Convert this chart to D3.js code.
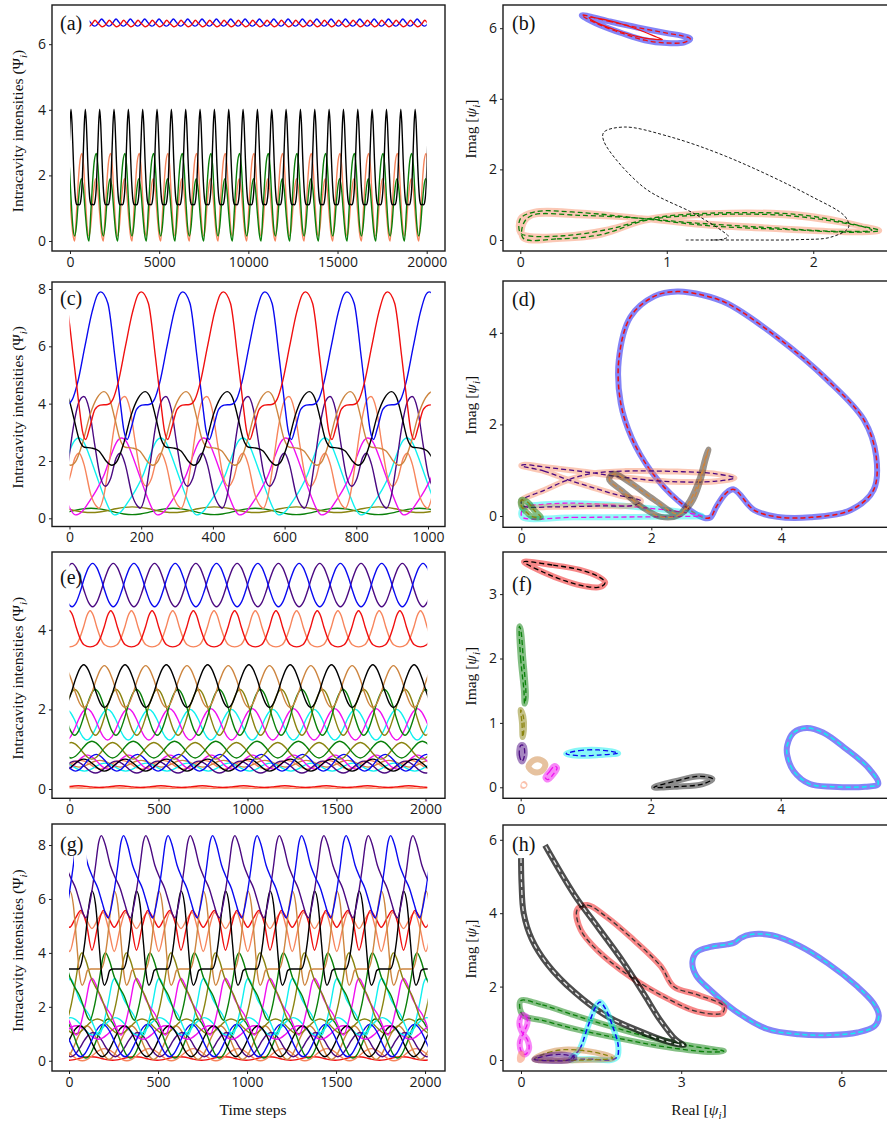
<!DOCTYPE html>
<html>
<head>
<meta charset="utf-8">
<script src="https://cdn.jsdelivr.net/npm/d3@7"></script>
<style>
  body { margin: 0; background: #fff; }
  .serif { font-family: "Liberation Serif", "Times New Roman", serif; }
</style>
</head>
<body>
<svg id="fig" width="887" height="1123"></svg>
<script>
// ---------- data ----------

// normalised one-cycle shapes (phase 0..1 -> 0..1)
const shapes = {
  round:  [[0,1],[0.1,0.9],[0.2,0.66],[0.3,0.35],[0.4,0.1],[0.5,0],[0.6,0.1],[0.7,0.35],[0.8,0.66],[0.9,0.9],[1,1]],
  peaked: [[0,1],[0.08,0.86],[0.16,0.55],[0.25,0.25],[0.35,0.06],[0.5,0],[0.65,0.06],[0.75,0.25],[0.84,0.55],[0.92,0.86],[1,1]],
  skew:   [[0,1],[0.08,0.9],[0.2,0.64],[0.3,0.5],[0.42,0.36],[0.52,0.18],[0.6,0.04],[0.65,0],[0.74,0.18],[0.86,0.6],[0.94,0.92],[1,1]]
};

// (a) long run, 0..20000 steps
const aTime = [-1009, 21026];
const aValue = [-0.305, 7.195];
const aTicksX = [0, 5000, 10000, 15000, 20000];
const aTicksY = [0, 2, 4, 6];
const aCycleLow = [[0,0],[100,0.85],[200,1.8],[300,2.45],[411,2.67],[500,2.3],[600,1.3],[700,0.45],[804,0.15],[900,0.45],[1000,1.15],[1100,1.7],[1190,1.9],[1300,1.55],[1400,0.85],[1500,0.25],[1608,0]];
const aSeries = [
  {key: "coral", from: 0, to: 20000, period: 1608, ref: 262, cycle: aCycleLow},
  {key: "green", from: 0, to: 20000, period: 1608, ref: 1066, cycle: aCycleLow},
  {key: "black", from: 0, to: 20000, period: 804, ref: 56,
   cycle: [[0,4.02],[60,3.55],[130,2.5],[200,1.65],[270,1.2],[340,1.1],[402,1.12],[470,1.1],[540,1.2],[610,1.6],[680,2.55],[745,3.55],[804,4.02]]},
  {key: "blue", from: 1100, to: 20000, period: 804, ref: 1776,
   cycle: [[0,6.77],[150,6.68],[300,6.58],[402,6.55],[500,6.57],[650,6.67],[804,6.77]]},
  {key: "red", from: 1100, to: 20000, period: 804, ref: 1402,
   cycle: [[0,6.73],[150,6.65],[300,6.57],[402,6.53],[500,6.55],[650,6.63],[804,6.73]]}
];

// (c) 0..1000 steps, period 229
const cTime = [-48.8, 1047.4];
const cValue = [-0.286, 8.244];
const cTicksX = [0, 200, 400, 600, 800, 1000];
const cTicksY = [0, 2, 4, 6, 8];
const cPeriod = 229;
const cCycleBig = [[0,7.9],[20,7.5],[40,5.6],[55,4.0],[65,3.05],[74,2.75],[85,3.15],[100,3.8],[115,3.95],[135,3.97],[150,4.15],[165,4.75],[185,6.0],[205,7.2],[220,7.8],[229,7.9]];
const cCycleMid = [[0,4.42],[15,4.2],[30,3.5],[45,2.75],[60,2.48],[80,2.45],[100,2.35],[120,2.0],[136,1.85],[150,1.98],[170,2.65],[190,3.6],[210,4.2],[229,4.42]];
const cCycleTwin = [[0,4.25],[15,3.8],[30,2.6],[45,1.5],[60,1.12],[75,1.4],[90,2.1],[102,2.27],[115,1.9],[135,0.8],[150,0.42],[157,0.35],[170,0.75],[185,1.9],[200,3.2],[215,4.05],[229,4.25]];
const cCycleWave = [[0,2.8],[15,2.65],[30,2.2],[50,1.5],[70,0.8],[85,0.35],[100,0.12],[120,0.25],[140,0.6],[160,1.0],[180,1.5],[200,2.2],[215,2.65],[229,2.8]];
const cSeries = [
  {key: "green", ref: 60, lo: 0.13, hi: 0.35, shape: "round"},
  {key: "olive", ref: 175, lo: 0.2, hi: 0.4, shape: "round"},
  {key: "cyan", ref: 25, cycle: cCycleWave},
  {key: "magenta", ref: 145, cycle: cCycleWave},
  {key: "coral", ref: 154, cycle: cCycleTwin},
  {key: "indigo", ref: 40, cycle: cCycleTwin},
  {key: "peru", ref: 96, cycle: cCycleMid},
  {key: "black", ref: 211, cycle: cCycleMid},
  {key: "blue", ref: 87, cycle: cCycleBig},
  {key: "red", ref: 200, cycle: cCycleBig}
];

// (e) 0..2000 steps, period 232
const eTime = [-98.3, 2109.6];
const eValue = [-0.234, 5.955];
const eTicksX = [0, 500, 1000, 1500, 2000];
const eTicksY = [0, 2, 4];
const ePeriod = 232;
const eSeries = [
  {key: "coral", ref: 0, lo: 0.02, hi: 0.03, shape: "round"},
  {key: "red", ref: 50, lo: 0.04, hi: 0.08, shape: "round"},
  {key: "peru", ref: 170, lo: 0.55, hi: 0.72, shape: "round"},
  {key: "coral", ref: 60, lo: 0.5, hi: 0.72, shape: "round"},
  {key: "cyan", ref: 200, lo: 0.45, hi: 0.65, shape: "round"},
  {key: "magenta", ref: 100, lo: 0.5, hi: 0.85, shape: "round"},
  {key: "indigo", ref: 30, lo: 0.4, hi: 0.7, shape: "round"},
  {key: "black", ref: 80, lo: 0.45, hi: 0.75, shape: "round"},
  {key: "blue", ref: 150, lo: 0.45, hi: 0.87, shape: "round"},
  {key: "olive", ref: 10, lo: 0.75, hi: 1.17, shape: "round"},
  {key: "green", ref: 126, lo: 0.78, hi: 1.2, shape: "round"},
  {key: "cyan", ref: 214, lo: 1.23, hi: 2.0, shape: "round"},
  {key: "magenta", ref: 98, lo: 1.23, hi: 2.02, shape: "round"},
  {key: "olive", ref: 30, lo: 1.35, hi: 2.5, shape: "round"},
  {key: "green", ref: 145, lo: 1.35, hi: 2.5, shape: "round"},
  {key: "peru", ref: 196, lo: 2.05, hi: 3.1, shape: "round"},
  {key: "black", ref: 80, lo: 2.05, hi: 3.12, shape: "round"},
  {key: "coral", ref: 116, lo: 3.57, hi: 4.48, shape: "peaked"},
  {key: "red", ref: 0, lo: 3.57, hi: 4.48, shape: "peaked"},
  {key: "indigo", ref: 14, lo: 4.58, hi: 5.67, shape: "round"},
  {key: "blue", ref: 130, lo: 4.58, hi: 5.67, shape: "round"}
];

// (g) 0..2000 steps, period 250
const gTime = [-95.5, 2112];
const gValue = [-0.38, 8.78];
const gTicksX = [0, 500, 1000, 1500, 2000];
const gTicksY = [0, 2, 4, 6, 8];
const gPeriod = 250;
const gCycleStep = [[0,6.3],[20,5.8],[40,4.3],[55,3.2],[70,2.8],[85,3.0],[100,3.35],[120,3.4],[175,3.4],[190,3.6],[210,4.4],[230,5.6],[250,6.3]];
const gSeries = [
  {key: "red", ref: 120, lo: 0.02, hi: 0.15, shape: "round"},
  {key: "coral", ref: 200, lo: 0.0, hi: 0.45, shape: "round"},
  {key: "peru", ref: 100, lo: 0.05, hi: 1.3, shape: "round"},
  {key: "indigo", ref: 135, lo: 0.15, hi: 1.05, shape: "round"},
  {key: "green", ref: 220, lo: 0.1, hi: 1.55, shape: "round"},
  {key: "magenta", ref: 40, lo: 0.8, hi: 1.3, shape: "round"},
  {key: "olive", ref: 160, lo: 1.0, hi: 1.55, shape: "round"},
  {key: "cyan", ref: 10, lo: 0.95, hi: 1.6, shape: "round"},
  {key: "black", ref: 62, lo: 0.15, hi: 1.3, shape: "round"},
  {key: "blue", ref: 190, lo: 0.15, hi: 1.35, shape: "round"},
  {key: "cyan", ref: 7, lo: 0.95, hi: 3.05, shape: "skew"},
  {key: "magenta", ref: 130, lo: 0.95, hi: 3.05, shape: "skew"},
  {key: "olive", ref: 73, lo: 1.5, hi: 4.0, shape: "skew"},
  {key: "green", ref: 205, lo: 1.5, hi: 4.0, shape: "skew"},
  {key: "coral", ref: 67, cycle: [[0,5.5],[30,5.25],[62,4.9],[95,5.25],[125,5.5],[155,4.9],[187,4.05],[220,4.9],[250,5.5]]},
  {key: "red", ref: 192, cycle: [[0,5.57],[30,5.3],[62,4.95],[95,5.3],[125,5.57],[155,5.1],[187,4.1],[220,5.0],[250,5.57]]},
  {key: "peru", ref: 254, cycle: gCycleStep},
  {key: "black", ref: 129, cycle: gCycleStep},
  {key: "indigo", ref: 182, lo: 5.3, hi: 8.35, shape: "skew"},
  {key: "blue", from: 100, ref: 307, lo: 5.3, hi: 8.35, shape: "skew"},
  {key: "blue", from: 0, to: 28, ref: 307, lo: 5.3, hi: 8.35, shape: "skew"}
];

// (b) phase portrait
const bReal = [-0.118, 2.517];
const bImag = [-0.312, 6.657];
const bTicksX = [0, 1, 2];
const bTicksY = [0, 2, 4, 6];
const bTop = [[0.42,6.37],[0.6,6.2],[0.8,6.02],[1.0,5.86],[1.1,5.79],[1.16,5.7],[1.12,5.6],[1.0,5.58],[0.85,5.66],[0.7,5.85],[0.55,6.08],[0.45,6.28]];
const bTopInner = [[0.47,6.3],[0.62,6.2],[0.78,6.0],[0.93,5.75],[0.97,5.68],[0.85,5.72],[0.65,5.95],[0.5,6.2]];
const bRibbon = [[0.02,0.05],[0.25,0.03],[0.55,0.15],[0.85,0.55],[1.2,0.7],[1.8,0.7],[2.25,0.45],[2.45,0.27],[2.3,0.22],[1.8,0.3],[1.3,0.4],[0.85,0.6],[0.4,0.78],[0.1,0.8],[0.0,0.6],[0.0,0.2],
                 [0.05,0.12],[0.3,0.12],[0.6,0.3],[0.9,0.62],[1.3,0.76],[1.9,0.72],[2.3,0.42],[2.4,0.28],[2.2,0.24],[1.7,0.35],[1.2,0.48],[0.8,0.62],[0.4,0.7],[0.08,0.7],[0.02,0.45]];
const bOrbit = [[1.13,0.0],[1.5,0.0],[1.9,0.01],[2.12,0.08],[2.24,0.35],[2.22,0.65],[1.98,1.25],[1.41,2.36],[1.0,2.95],[0.71,3.2],[0.57,3.05],[0.57,2.8],[0.84,1.5],[1.19,0.74],[1.38,0.25],[1.42,0.1],[1.38,0.02],[1.3,0.0]];

// (d)
const dReal = [-0.282, 5.657];
const dImag = [-0.247, 5.131];
const dTicksX = [0, 2, 4];
const dTicksY = [0, 2, 4];
const dBig = [[2.81,-0.04],[2.4,0.35],[1.99,0.99],[1.7,1.7],[1.53,2.46],[1.5,3.41],[1.68,4.35],[2.05,4.8],[2.4,4.9],[2.8,4.82],[3.17,4.64],[3.94,3.9],[4.71,2.97],[5.27,2.1],[5.46,1.3],[5.42,0.57],[5.07,0.13],[4.45,-0.03],[3.94,-0.02],[3.58,0.13],[3.27,0.58],[3.15,0.5],[3.0,0.2],[2.91,-0.03]];
const dCyan = [[0.02,-0.03],[0.8,-0.03],[1.8,-0.02],[2.5,-0.01],[2.78,0.0],[2.5,0.08],[1.9,0.18],[1.3,0.25],[0.7,0.28],[0.3,0.25],[0.06,0.2],[0.0,0.08]];
const dSalmon = [[0.0,1.1],[0.35,0.98],[0.72,0.79],[1.1,0.62],[1.5,0.45],[1.84,0.33],[1.75,0.24],[1.2,0.22],[0.5,0.2],[0.03,0.22],[0.0,0.33],[0.35,0.56],[0.72,0.79],[1.1,0.93],[1.6,0.98],[2.4,0.97],[3.0,0.92],[3.28,0.83],[3.0,0.76],[2.3,0.75],[1.6,0.84],[1.0,0.96],[0.4,1.06],[0.05,1.12]];
const dGrey = [[2.15,-0.02],[1.85,0.2],[1.55,0.55],[1.35,0.8],[1.42,0.92],[1.65,0.75],[2.05,0.35],[2.42,0.04],[2.62,0.3],[2.75,0.75],[2.83,1.2],[2.88,1.45],[2.84,1.3],[2.74,0.8],[2.6,0.35],[2.42,0.02]];
const dGreen = [[0.0,0.35],[0.1,0.3],[0.2,0.12],[0.3,-0.02],[0.18,-0.02],[0.08,0.08],[0.0,0.22]];

// (f)
const fReal = [-0.272, 5.666];
const fImag = [-0.171, 3.654];
const fTicksX = [0, 2, 4];
const fTicksY = [0, 1, 2, 3];
const fRed = [[0.05,3.5],[0.5,3.45],[0.9,3.38],[1.2,3.27],[1.3,3.18],[1.22,3.11],[1.0,3.12],[0.7,3.2],[0.35,3.34]];
const fGreen = [[-0.02,2.5],[0.0,2.0],[0.05,1.5],[0.06,1.3],[0.08,1.4],[0.04,2.0],[0.0,2.45]];
const fOlive = [[0.0,1.2],[0.02,1.0],[0.03,0.78],[0.05,0.9],[0.04,1.1]];
const fIndigo = [[0.0,0.65],[-0.02,0.5],[0.02,0.4],[0.06,0.5],[0.04,0.65]];
const fPeru = [[0.12,0.32],[0.2,0.42],[0.32,0.42],[0.38,0.35],[0.32,0.25],[0.2,0.24]];
const fMagenta = [[0.38,0.15],[0.45,0.25],[0.52,0.33],[0.56,0.3],[0.5,0.2],[0.42,0.12]];
const fCoral = [[0.04,0.02],[0.06,0.04],[0.05,0.05]];
const fCyan = [[0.7,0.52],[0.9,0.57],[1.2,0.58],[1.5,0.53],[1.2,0.5],[0.9,0.49]];
const fBlack = [[2.05,0.0],[2.4,0.1],[2.75,0.17],[2.95,0.13],[2.8,0.05],[2.4,0.01]];
const fBlue = [[4.1,0.65],[4.2,0.85],[4.4,0.92],[4.65,0.85],[5.0,0.6],[5.35,0.3],[5.5,0.05],[5.3,0.01],[4.8,0.01],[4.45,0.05],[4.2,0.25],[4.1,0.5]];

// (h)
const hReal = [-0.337, 6.891];
const hImag = [-0.30, 6.403];
const hTicksX = [0, 3, 6];
const hTicksY = [0, 2, 4, 6];
const hBlue = [[3.21,2.68],[3.3,2.95],[3.55,3.08],[3.86,3.15],[4.0,3.2],[4.12,3.33],[4.3,3.42],[4.7,3.4],[5.2,3.12],[5.74,2.64],[6.3,2.0],[6.6,1.55],[6.7,1.22],[6.62,0.92],[6.3,0.75],[5.8,0.68],[5.2,0.7],[4.6,0.85],[4.0,1.35],[3.55,1.9],[3.28,2.3]];
const hRed = [[1.05,4.09],[1.24,4.22],[1.6,3.9],[2.05,3.35],[2.62,2.55],[2.86,2.0],[3.3,1.78],[3.8,1.46],[3.77,1.28],[3.3,1.32],[2.8,1.63],[2.05,2.27],[1.43,2.99],[1.12,3.54]];
const hBlack = [[0.0,5.5],[0.01,4.8],[0.05,4.0],[0.2,3.3],[0.5,2.6],[1.0,1.85],[1.6,1.2],[2.2,0.8],[2.7,0.52],[3.05,0.4],[2.9,0.55],[2.6,1.1],[2.3,1.8],[1.9,2.7],[1.45,3.6],[1.0,4.5],[0.45,5.85]];
const hGreen = [[0.0,1.62],[0.4,1.5],[1.0,1.22],[1.6,0.95],[2.4,0.62],[3.2,0.38],[3.8,0.24],[3.5,0.22],[2.6,0.38],[1.8,0.6],[1.0,0.85],[0.4,1.08],[0.05,1.2],[-0.02,1.4]];
const hCyan = [[0.93,0.0],[1.1,0.3],[1.25,0.9],[1.4,1.45],[1.48,1.58],[1.58,1.4],[1.72,0.9],[1.82,0.4],[1.8,0.08],[1.68,0.0],[1.35,0.02],[1.1,0.02]];
const hMagenta = [[0.02,1.22],[0.1,1.18],[0.12,1.0],[0.05,0.75],[-0.02,0.5],[0.0,0.25],[0.08,0.15],[0.15,0.3],[0.12,0.55],[0.02,0.75],[-0.03,1.0]];
const hPeru = [[0.25,0.02],[0.5,0.2],[0.8,0.28],[1.2,0.25],[1.55,0.15],[1.72,0.05],[1.2,0.0],[0.6,-0.01]];
const hIndigo = [[0.25,0.02],[0.5,0.12],[0.75,0.15],[1.0,0.08],[0.9,0.0],[0.5,-0.02]];
const hCoral = [[-0.02,0.0],[0.0,0.18],[0.02,0.05]];

// ---------- styles & layout ----------
const colors = {
  blue: "#0a0af0", red: "#f01010", black: "#000000", green: "#0a800a", coral: "#f7855c",
  peru: "#cd853f", indigo: "#4b0a82", cyan: "#10f0f0", magenta: "#f010f0", olive: "#8a8410",
  grey: "#333333", taupe: "#4a3a2a"
};
const frames = {
  a: {x0: 52, x1: 445, y0: 5, y1: 251},
  b: {x0: 503, x1: 889, y0: 5, y1: 251},
  c: {x0: 52, x1: 445, y0: 282, y1: 526.5},
  d: {x0: 503, x1: 889, y0: 281, y1: 527.3},
  e: {x0: 52, x1: 445, y0: 552, y1: 798.3},
  f: {x0: 503, x1: 889, y0: 552, y1: 798.3},
  g: {x0: 52, x1: 445, y0: 824, y1: 1071},
  h: {x0: 503, x1: 889, y0: 825, y1: 1071}
};

const svg = d3.select("#fig");
const defs = svg.append("defs");

function cyclePoints(s, period) {
  if (s.cycle) return s.cycle;
  return shapes[s.shape].map(([p, v]) => [p * period, s.lo + v * (s.hi - s.lo)]);
}

// repeat the read-off cycle over the run
function tile(s, period, from, to) {
  const P = s.period || period;
  const cyc = cyclePoints(s, P);
  const pts = [];
  const k0 = Math.floor((from - s.ref) / P) - 1;
  const k1 = Math.ceil((to - s.ref) / P) + 1;
  for (let k = k0; k <= k1; k++) {
    cyc.forEach(([ph, v], i) => {
      if (i === cyc.length - 1 && k < k1) return;
      pts.push([s.ref + k * P + ph, v]);
    });
  }
  return pts.filter(p => p[0] >= from - P / 3 && p[0] <= to + P / 3);
}

function axes(id, fr, x, y, xt, yt) {
  const g = svg.append("g");
  g.append("g")
    .attr("transform", `translate(0,${fr.y1})`)
    .call(d3.axisBottom(x).tickValues(xt).tickSize(3).tickPadding(3).tickFormat(d3.format("d")))
    .attr("font-family", "'Open Sans', sans-serif")
    .attr("font-size", 14)
    .call(a => a.select(".domain").remove());
  g.append("g")
    .attr("transform", `translate(${fr.x0},0)`)
    .call(d3.axisLeft(y).tickValues(yt).tickSize(3).tickPadding(3).tickFormat(d3.format("d")))
    .attr("font-family", "'Open Sans', sans-serif")
    .attr("font-size", 14)
    .call(a => a.select(".domain").remove());
  g.selectAll(".tick text").attr("fill", "#1a1a1a");
  g.selectAll(".tick line").attr("stroke", "#222");
  g.append("rect")
    .attr("x", fr.x0).attr("y", fr.y0)
    .attr("width", fr.x1 - fr.x0).attr("height", fr.y1 - fr.y0)
    .attr("fill", "none").attr("stroke", "#1a1a1a").attr("stroke-width", 1.4);
}

function panelClip(id, fr) {
  defs.append("clipPath").attr("id", "frame-" + id).append("rect")
    .attr("x", fr.x0).attr("y", fr.y0).attr("width", fr.x1 - fr.x0).attr("height", fr.y1 - fr.y0);
}

function timePanel(id, xDom, yDom, xt, yt, series, period, span) {
  const fr = frames[id];
  panelClip(id, fr);
  const x = d3.scaleLinear().domain(xDom).range([fr.x0, fr.x1]);
  const y = d3.scaleLinear().domain(yDom).range([fr.y1, fr.y0]);
  const line = d3.line().x(d => x(d[0])).y(d => y(d[1])).curve(d3.curveMonotoneX);
  const g = svg.append("g").attr("clip-path", `url(#frame-${id})`);
  series.forEach((s, i) => {
    const from = s.from !== undefined ? s.from : span[0];
    const to = s.to !== undefined ? s.to : span[1];
    const cid = `span-${id}-${i}`;
    defs.append("clipPath").attr("id", cid).append("rect")
      .attr("x", x(from)).attr("y", fr.y0)
      .attr("width", x(to) - x(from)).attr("height", fr.y1 - fr.y0);
    g.append("g").attr("clip-path", `url(#${cid})`)
      .append("path")
      .datum(tile(s, period, from, to))
      .attr("d", line)
      .attr("fill", "none")
      .attr("stroke", colors[s.key])
      .attr("stroke-width", 1.4);
  });
  axes(id, fr, x, y, xt, yt);
}

// each loop: points, halo colour, dash colour
function phasePanel(id, xDom, yDom, xt, yt, loops) {
  const fr = frames[id];
  panelClip(id, fr);
  const x = d3.scaleLinear().domain(xDom).range([fr.x0, fr.x1]);
  const y = d3.scaleLinear().domain(yDom).range([fr.y1, fr.y0]);
  const g = svg.append("g").attr("clip-path", `url(#frame-${id})`);
  loops.forEach(L => {
    const line = d3.line().x(d => x(d[0])).y(d => y(d[1]))
      .curve(L.closed === false ? d3.curveCatmullRom.alpha(0.5) : d3.curveCatmullRomClosed.alpha(0.5));
    if (L.halo) {
      g.append("path").datum(L.pts).attr("d", line)
        .attr("fill", "none").attr("stroke", colors[L.halo])
        .attr("stroke-opacity", L.haloOpacity || 0.5)
        .attr("stroke-width", L.haloWidth || 6)
        .attr("stroke-linejoin", "round");
    }
    if (L.dash) {
      g.append("path").datum(L.pts).attr("d", line)
        .attr("fill", "none").attr("stroke", L.dash === "white" ? "#e8e8e8" : colors[L.dash])
        .attr("stroke-width", L.dashWidth || 1.3)
        .attr("stroke-dasharray", L.solid ? null : (L.pattern || "5,3"));
    }
  });
  axes(id, fr, x, y, xt, yt);
}

timePanel("a", aTime, aValue, aTicksX, aTicksY, aSeries, 804, [0, 20000]);
timePanel("c", cTime, cValue, cTicksX, cTicksY, cSeries, cPeriod, [0, 1008]);
timePanel("e", eTime, eValue, eTicksX, eTicksY, eSeries, ePeriod, [0, 2010]);
timePanel("g", gTime, gValue, gTicksX, gTicksY, gSeries, gPeriod, [0, 2015]);

phasePanel("b", bReal, bImag, bTicksX, bTicksY, [
  {pts: bRibbon, halo: "coral", haloOpacity: 0.45, dash: "green"},
  {pts: bOrbit, dash: "black", closed: false, dashWidth: 0.9, pattern: "3,2"},
  {pts: bTop, halo: "blue", dash: "red"},
  {pts: bTopInner, dash: "red", solid: true, dashWidth: 1.2}
]);
phasePanel("d", dReal, dImag, dTicksX, dTicksY, [
  {pts: dBig, halo: "blue", dash: "red", dashWidth: 1.5},
  {pts: dCyan, halo: "cyan", haloOpacity: 0.45, dash: "magenta"},
  {pts: dSalmon, halo: "coral", haloOpacity: 0.45, dash: "indigo"},
  {pts: dGrey, halo: "taupe", haloOpacity: 0.55, dash: "peru"},
  {pts: dGreen, halo: "green", haloOpacity: 0.5, dash: "olive"}
]);
phasePanel("f", fReal, fImag, fTicksX, fTicksY, [
  {pts: fRed, halo: "red", dash: "black"},
  {pts: fGreen, halo: "green", dash: "green"},
  {pts: fOlive, halo: "olive", dash: "olive"},
  {pts: fIndigo, halo: "indigo", dash: "indigo"},
  {pts: fPeru, halo: "peru"},
  {pts: fMagenta, halo: "magenta", dash: "magenta"},
  {pts: fCoral, halo: "coral"},
  {pts: fCyan, halo: "cyan", dash: "blue"},
  {pts: fBlack, halo: "black", haloOpacity: 0.45, dash: "black"},
  {pts: fBlue, halo: "blue", dash: "cyan", dashWidth: 1.5}
]);
phasePanel("h", hReal, hImag, hTicksX, hTicksY, [
  {pts: hBlue, halo: "blue", dash: "cyan", dashWidth: 1.5},
  {pts: hRed, halo: "red", dash: "grey"},
  {pts: hGreen, halo: "green", dash: "green"},
  {pts: hBlack, halo: "black", haloOpacity: 0.7, dash: "white", closed: false},
  {pts: hCyan, halo: "cyan", dash: "blue", dashWidth: 1.5},
  {pts: hMagenta, halo: "magenta", dash: "magenta"},
  {pts: hPeru, halo: "peru", dash: "olive"},
  {pts: hIndigo, halo: "indigo", dash: "indigo"},
  {pts: hCoral, halo: "coral"}
]);

// ---------- text ----------
const labels = [["a", 60, 30], ["b", 512, 30], ["c", 60, 305], ["d", 512, 306], ["e", 60, 584], ["f", 512, 591], ["g", 60, 851], ["h", 512, 851]];
labels.forEach(([k, px, py]) => {
  svg.append("text").attr("class", "serif").attr("x", px).attr("y", py)
    .attr("font-size", 20).attr("fill", "#111").text(`(${k})`);
});

function leftTitle(cy) {
  const t = svg.append("text").attr("class", "serif")
    .attr("transform", `translate(23,${cy}) rotate(-90)`)
    .attr("text-anchor", "middle").attr("font-size", 15.5).attr("fill", "#111");
  t.append("tspan").text("Intracavity intensities (Ψ");
  t.append("tspan").attr("font-style", "italic").attr("font-size", 11).attr("dy", 4).text("i");
  t.append("tspan").attr("dy", -4).text(")");
}
function rightTitle(cy) {
  const t = svg.append("text").attr("class", "serif")
    .attr("transform", `translate(476,${cy}) rotate(-90)`)
    .attr("text-anchor", "middle").attr("font-size", 15.5).attr("fill", "#111");
  t.append("tspan").text("Imag [");
  t.append("tspan").attr("font-style", "italic").text("ψ");
  t.append("tspan").attr("font-style", "italic").attr("font-size", 11).attr("dy", 4).text("i");
  t.append("tspan").attr("dy", -4).text("]");
}
["a", "c", "e", "g"].forEach(k => leftTitle((frames[k].y0 + frames[k].y1) / 2 + 3));
["b", "d", "f", "h"].forEach(k => rightTitle((frames[k].y0 + frames[k].y1) / 2 + 1));

svg.append("text").attr("class", "serif").attr("x", 253).attr("y", 1115)
  .attr("text-anchor", "middle").attr("font-size", 15.5).attr("fill", "#111").text("Time steps");
const rt = svg.append("text").attr("class", "serif").attr("x", 699).attr("y", 1115)
  .attr("text-anchor", "middle").attr("font-size", 15.5).attr("fill", "#111");
rt.append("tspan").text("Real [");
rt.append("tspan").attr("font-style", "italic").text("ψ");
rt.append("tspan").attr("font-style", "italic").attr("font-size", 11).attr("dy", 4).text("i");
rt.append("tspan").attr("dy", -4).text("]");
</script>
</body>
</html>
